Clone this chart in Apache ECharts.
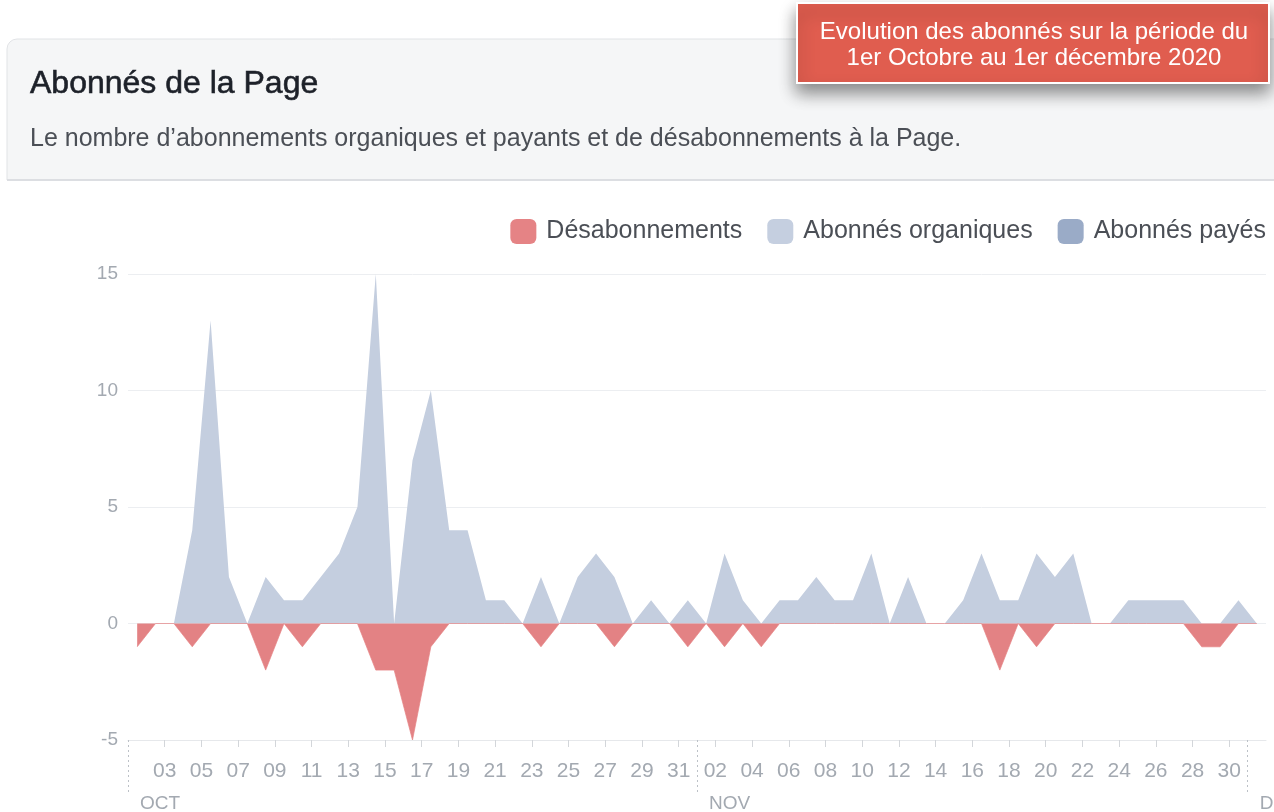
<!DOCTYPE html>
<html lang="fr">
<head>
<meta charset="utf-8">
<title>Abonnés de la Page</title>
<script src="https://cdn.jsdelivr.net/npm/echarts@6.0.0/dist/echarts.min.js"></script>
<style>
  html, body { margin: 0; padding: 0; background: #fff; }
  #main { width: 1274px; height: 812px; }
</style>
</head>
<body>
<div id="main"></div>
<script>
// jours du 1er octobre au 1er décembre 2020
var jours = ['01', '02', '03', '04', '05', '06', '07', '08', '09', '10',
  '11', '12', '13', '14', '15', '16', '17', '18', '19', '20',
  '21', '22', '23', '24', '25', '26', '27', '28', '29', '30', '31',
  '01', '02', '03', '04', '05', '06', '07', '08', '09', '10',
  '11', '12', '13', '14', '15', '16', '17', '18', '19', '20',
  '21', '22', '23', '24', '25', '26', '27', '28', '29', '30',
  '01'];
// début de chaque jour (graduations entre les jours)
var bornes = jours.concat(['02']);
var mois = ['OCT', 'NOV', 'DÉC'];
var debutMois = [0, 31, 61];

var desabonnements = [-1, 0, 0, -1, 0, 0, 0, -2, 0, -1,
  0, 0, 0, -2, -2, -5, -1, 0, 0, 0,
  0, 0, -1, 0, 0, 0, -1, 0, 0, 0,
  -1, 0, -1, 0, -1, 0, 0, 0, 0, 0,
  0, 0, 0, 0, 0, 0, 0, -2, 0, -1,
  0, 0, 0, 0, 0, 0, 0, 0, -1, -1,
  0, 0];
var organiques = [0, 0, 0, 4, 13, 2, 0, 2, 1, 1,
  2, 3, 5, 15, 0, 7, 10, 4, 4, 1,
  1, 0, 2, 0, 2, 3, 2, 0, 1, 0,
  1, 0, 3, 1, 0, 1, 1, 2, 1, 1,
  3, 0, 2, 0, 0, 1, 3, 1, 1, 3,
  2, 3, 0, 0, 1, 1, 1, 1, 0, 0,
  1, 0];
var payes = [0, 0, 0, 0, 0, 0, 0, 0, 0, 0,
  0, 0, 0, 0, 0, 0, 0, 0, 0, 0,
  0, 0, 0, 0, 0, 0, 0, 0, 0, 0,
  0, 0, 0, 0, 0, 0, 0, 0, 0, 0,
  0, 0, 0, 0, 0, 0, 0, 0, 0, 0,
  0, 0, 0, 0, 0, 0, 0, 0, 0, 0,
  0, 0];

var police = '"Liberation Sans", Arial, sans-serif';
var gris = '#a3a9b1';

var chart = echarts.init(document.getElementById('main'), null, { renderer: 'canvas' });

function jourVisible(idx) {
  return idx % 2 === 0 && idx >= 2 && idx <= 60;
}
function moisVisible(idx) {
  return debutMois.indexOf(idx) >= 0;
}

var option = {
  animation: false,
  color: ['#e58385', '#c5cfe0', '#9aabc7'],
  textStyle: { fontFamily: police },
  graphic: [
    {
      type: 'rect',
      shape: { x: 7, y: 39, width: 1280, height: 141, r: [10, 0, 0, 0] },
      style: { fill: '#f5f6f7', stroke: '#e1e3e6', lineWidth: 1 },
      z: -10
    },
    {
      type: 'line',
      shape: { x1: 7, y1: 180, x2: 1274, y2: 180 },
      style: { stroke: '#dcdee2', lineWidth: 2 },
      z: -9
    },
    {
      type: 'text',
      style: {
        x: 30, y: 84, text: 'Abonnés de la Page',
        font: '32px ' + police, fill: '#1d2129',
        stroke: '#1d2129', lineWidth: 0.6,
        textVerticalAlign: 'middle'
      }
    },
    {
      type: 'text',
      style: {
        x: 30, y: 139, text: 'Le nombre d’abonnements organiques et payants et de désabonnements à la Page.',
        font: '25px ' + police, fill: '#4b4f56',
        textVerticalAlign: 'middle'
      }
    },
    {
      type: 'rect',
      shape: { x: 797, y: 3, width: 472, height: 80 },
      style: {
        fill: '#e05d4f', stroke: '#ffffff', lineWidth: 2,
        shadowBlur: 16, shadowOffsetY: 9, shadowColor: 'rgba(0,0,0,0.45)'
      },
      z: 10
    },
    {
      type: 'text',
      z: 11,
      style: {
        x: 1034, y: 32, text: 'Evolution des abonnés sur la période du',
        font: '24px ' + police, fill: '#ffffff',
        textAlign: 'center', textVerticalAlign: 'middle'
      }
    },
    {
      type: 'text',
      z: 11,
      style: {
        x: 1034, y: 58, text: '1er Octobre au 1er décembre 2020',
        font: '24px ' + police, fill: '#ffffff',
        textAlign: 'center', textVerticalAlign: 'middle'
      }
    }
  ],
  legend: {
    right: 3,
    top: 214,
    icon: 'roundRect',
    itemWidth: 26,
    itemHeight: 25,
    itemGap: 25,
    textStyle: { fontSize: 25, color: '#4b4f56', padding: [0, 0, 0, 5] },
    data: ['Désabonnements', 'Abonnés organiques', 'Abonnés payés']
  },
  grid: {
    left: 128,
    right: 8,
    top: 274,
    bottom: 72,
    containLabel: false,
    outerBoundsMode: 'none'
  },
  xAxis: [
    {
      type: 'category',
      data: jours,
      boundaryGap: true,
      position: 'bottom',
      axisLine: { onZero: false, lineStyle: { color: '#e6e8eb', width: 1 } },
      axisTick: { show: false },
      axisLabel: { show: false },
      splitLine: { show: false }
    },
    {
      type: 'category',
      data: bornes,
      boundaryGap: false,
      position: 'bottom',
      axisLine: { show: false, onZero: false },
      axisTick: {
        show: true, length: 7, interval: jourVisible,
        lineStyle: { color: '#d3d6da' }
      },
      axisLabel: {
        interval: jourVisible,
        fontSize: 21, color: gris, margin: 21
      },
      splitLine: { show: false }
    },
    {
      type: 'category',
      data: bornes,
      boundaryGap: false,
      position: 'bottom',
      axisLine: { show: false, onZero: false },
      axisTick: {
        show: true, length: 54, interval: moisVisible,
        lineStyle: { color: '#bcc1c7', type: [2, 3] }
      },
      axisLabel: {
        interval: moisVisible,
        formatter: function (v, idx) { return mois[debutMois.indexOf(idx)]; },
        align: 'left', padding: [0, 0, 0, 12],
        fontSize: 19, color: gris, margin: 54
      },
      splitLine: { show: false }
    }
  ],
  yAxis: {
    type: 'value',
    min: -5,
    max: 15,
    interval: 5,
    axisLine: { show: false },
    axisTick: { show: false },
    axisLabel: { fontSize: 19, color: gris, margin: 10 },
    splitLine: { lineStyle: { color: '#eceef1', width: 1 } }
  },
  series: [
    {
      name: 'Désabonnements',
      type: 'line',
      data: desabonnements,
      symbol: 'none',
      z: 3,
      lineStyle: { width: 1, color: '#e58385', opacity: 0.7 },
      areaStyle: { color: '#e38284', opacity: 1 }
    },
    {
      name: 'Abonnés organiques',
      type: 'line',
      data: organiques,
      symbol: 'none',
      z: 2,
      lineStyle: { width: 0 },
      areaStyle: { color: '#c4cedf', opacity: 1 }
    },
    {
      name: 'Abonnés payés',
      type: 'line',
      data: payes,
      symbol: 'none',
      z: 1,
      lineStyle: { width: 0 },
      areaStyle: { color: '#9aabc7', opacity: 1 }
    }
  ]
};

chart.setOption(option);
</script>
</body>
</html>
